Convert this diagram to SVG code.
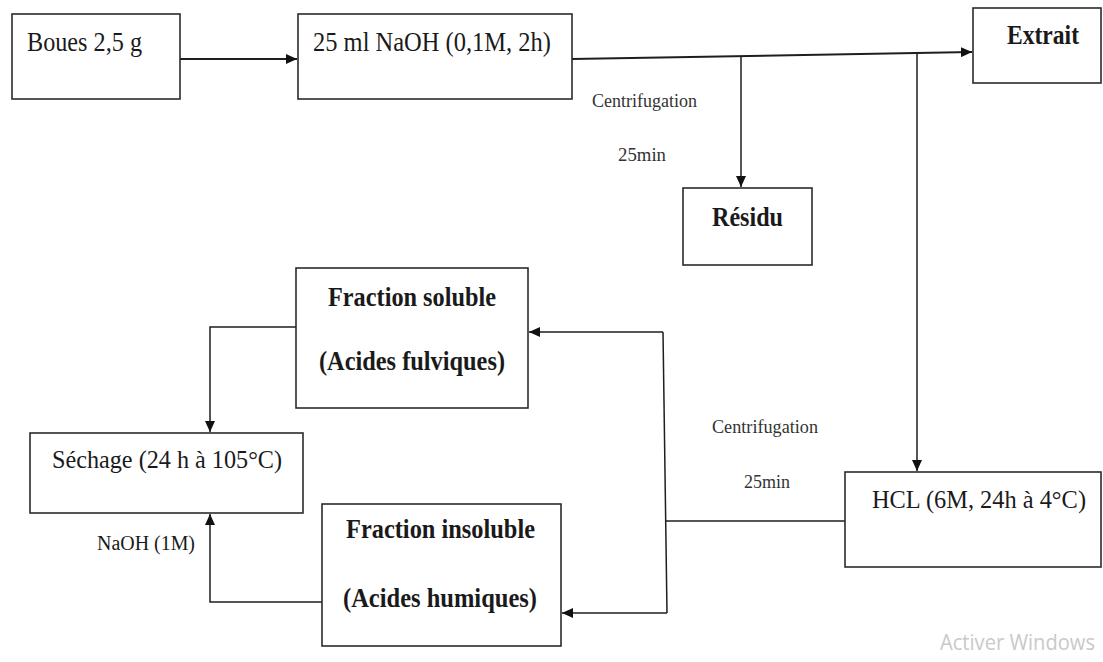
<svg xmlns="http://www.w3.org/2000/svg" width="1103" height="662" viewBox="0 0 1103 662">
  <style>
    .box { fill: #ffffff; stroke: #2b2b2b; stroke-width: 1.6; }
    .t { font-family: "Liberation Serif", "Times New Roman", serif; fill: #1a1a1a; }
    .b { font-weight: bold; }
    .s { font-size: 18px; fill: #333333; }
    .c { fill: none; stroke: #1e1e1e; stroke-width: 1.5; }
    .m { stroke-width: 2; }
    .wm { font-family: "Open Sans", "Noto Sans", sans-serif; font-size: 21px; fill: #c9c9c9; }
  </style>
  <defs>
    <marker id="ah" markerUnits="userSpaceOnUse" markerWidth="12" markerHeight="10" refX="11" refY="5" orient="auto">
      <path d="M0,0 L11,5 L0,10 z" fill="#111111"/>
    </marker>
  </defs>
  <rect width="1103" height="662" fill="#ffffff"/>

  <g id="connectors">
    <line class="c m" x1="180" y1="59" x2="297" y2="59" marker-end="url(#ah)"/>
    <line class="c m" x1="572" y1="59" x2="972" y2="52" marker-end="url(#ah)"/>
    <line class="c" x1="741" y1="56" x2="741" y2="187" marker-end="url(#ah)"/>
    <line class="c" x1="917" y1="53" x2="917" y2="471" marker-end="url(#ah)"/>
    <line class="c" x1="845" y1="521" x2="666" y2="521"/>
    <line class="c" x1="663" y1="332" x2="667" y2="613"/>
    <line class="c" x1="663" y1="332" x2="529" y2="332" marker-end="url(#ah)"/>
    <line class="c" x1="667" y1="613" x2="562" y2="613" marker-end="url(#ah)"/>
    <path class="c" d="M296,327 L210,327 L210,432" marker-end="url(#ah)"/>
    <path class="c" d="M322,602 L210,602 L210,514" marker-end="url(#ah)"/>
  </g>

  <g id="boues">
    <rect class="box" x="12" y="14" width="168" height="85"/>
    <text class="t" x="27" y="51" font-size="28" textLength="115" lengthAdjust="spacingAndGlyphs">Boues 2,5 g</text>
  </g>
  <g id="naoh">
    <rect class="box" x="298" y="14" width="274" height="85"/>
    <text class="t" x="313" y="51" font-size="28" textLength="238" lengthAdjust="spacingAndGlyphs">25 ml NaOH (0,1M, 2h)</text>
  </g>
  <g id="centrifugation1">
    <text class="t s" x="592" y="107" textLength="105" lengthAdjust="spacingAndGlyphs">Centrifugation</text>
    <text class="t s" x="618" y="161" textLength="48" lengthAdjust="spacingAndGlyphs">25min</text>
  </g>
  <g id="extrait">
    <rect class="box" x="973" y="8" width="128" height="75"/>
    <text class="t b" x="1007" y="44" font-size="27" textLength="72" lengthAdjust="spacingAndGlyphs">Extrait</text>
  </g>
  <g id="residu">
    <rect class="box" x="683" y="188" width="129" height="77"/>
    <text class="t b" x="712" y="226" font-size="27" textLength="71" lengthAdjust="spacingAndGlyphs">Résidu</text>
  </g>
  <g id="fraction-soluble">
    <rect class="box" x="296" y="268" width="232" height="140"/>
    <text class="t b" x="328" y="306" font-size="28" textLength="168" lengthAdjust="spacingAndGlyphs">Fraction soluble</text>
    <text class="t b" x="319" y="370" font-size="28" textLength="186" lengthAdjust="spacingAndGlyphs">(Acides fulviques)</text>
  </g>
  <g id="sechage">
    <rect class="box" x="30" y="433" width="273" height="80"/>
    <text class="t" x="52" y="468" font-size="26" textLength="230" lengthAdjust="spacingAndGlyphs">Séchage (24 h à 105°C)</text>
  </g>
  <g id="naoh-1m">
    <text class="t" x="97" y="550" font-size="20" fill="#333333" textLength="98" lengthAdjust="spacingAndGlyphs">NaOH (1M)</text>
  </g>
  <g id="fraction-insoluble">
    <rect class="box" x="322" y="504" width="239" height="142"/>
    <text class="t b" x="346" y="538" font-size="28" textLength="189" lengthAdjust="spacingAndGlyphs">Fraction insoluble</text>
    <text class="t b" x="343" y="607" font-size="28" textLength="194" lengthAdjust="spacingAndGlyphs">(Acides humiques)</text>
  </g>
  <g id="centrifugation2">
    <text class="t s" x="712" y="433" textLength="106" lengthAdjust="spacingAndGlyphs">Centrifugation</text>
    <text class="t s" x="744" y="488" textLength="46" lengthAdjust="spacingAndGlyphs">25min</text>
  </g>
  <g id="hcl">
    <rect class="box" x="845" y="472" width="256" height="95"/>
    <text class="t" x="872" y="508" font-size="26" textLength="214" lengthAdjust="spacingAndGlyphs">HCL (6M, 24h à 4°C)</text>
  </g>
  <text class="wm" x="940" y="650" textLength="155" lengthAdjust="spacingAndGlyphs">Activer Windows</text>
</svg>
